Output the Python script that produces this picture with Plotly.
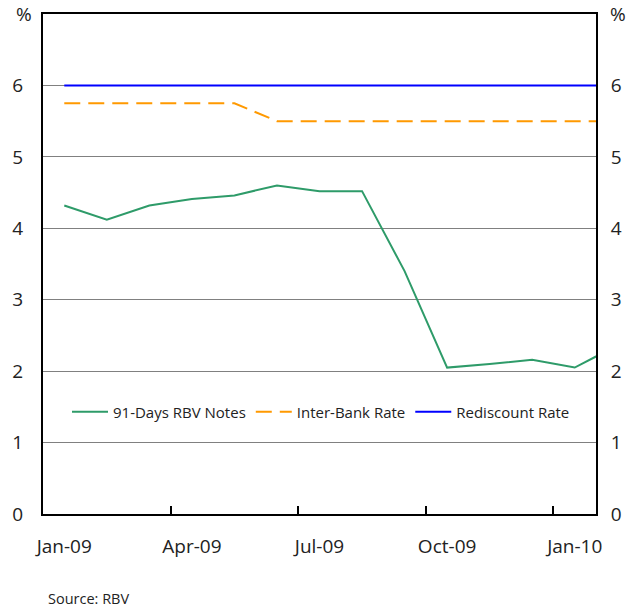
import plotly.graph_objects as go

months = ["Jan-09", "Feb-09", "Mar-09", "Apr-09", "May-09", "Jun-09", "Jul-09",
          "Aug-09", "Sep-09", "Oct-09", "Nov-09", "Dec-09", "Jan-10", "Feb-10"]
notes_91d = [4.32, 4.12, 4.32, 4.41, 4.46, 4.60, 4.52, 4.52, 3.40, 2.05, 2.10, 2.16, 2.05, 2.36]
interbank = [5.75, 5.75, 5.75, 5.75, 5.75, 5.50, 5.50, 5.50, 5.50, 5.50, 5.50, 5.50, 5.50, 5.50]
rediscount = [6.0] * 14
tick_labels = ["Jan-09", "Apr-09", "Jul-09", "Oct-09", "Jan-10"]
y_ticks = [0, 1, 2, 3, 4, 5, 6]

x = list(range(len(months)))
label_pos = [months.index(m) for m in tick_labels]
boundaries = [p - 0.5 for p in label_pos[1:]]

FONT = "Open Sans"
TXT = "#222"

fig = go.Figure()
fig.add_trace(go.Scatter(x=x, y=notes_91d, mode="lines", name="91-Days RBV Notes",
                         line=dict(color="#2E9B69", width=2)))
fig.add_trace(go.Scatter(x=x, y=interbank, mode="lines", name="Inter-Bank Rate",
                         line=dict(color="#FF9900", width=2, dash="16px,8px")))
fig.add_trace(go.Scatter(x=x, y=rediscount, mode="lines", name="Rediscount Rate",
                         line=dict(color="#0000FF", width=2)))
fig.add_trace(go.Scatter(x=x, y=rediscount, yaxis="y2", mode="lines", showlegend=False,
                         hoverinfo="skip", line=dict(color="rgba(0,0,0,0)", width=0)))

yax = dict(range=[0, 7], tickvals=y_ticks, ticktext=[str(v) for v in y_ticks],
           showgrid=True, gridcolor="#808080", gridwidth=1, zeroline=False,
           showline=True, linecolor="black", linewidth=2, ticks="",
           tickfont=dict(family=FONT, size=19, color=TXT))

fig.update_layout(
    width=636, height=609,
    margin=dict(l=43, r=40, t=14, b=95),
    paper_bgcolor="white", plot_bgcolor="white",
    font=dict(family=FONT, color=TXT),
    xaxis=dict(range=[-0.5, 12.5], tickvals=label_pos, ticktext=tick_labels,
               ticks="", showgrid=False, zeroline=False,
               showline=True, linecolor="black", linewidth=2, mirror=True,
               tickfont=dict(family=FONT, size=19, color=TXT), ticklabelstandoff=14,
               minor=dict(tickvals=boundaries, ticks="inside", ticklen=8,
                          tickwidth=2, tickcolor="black", showgrid=False)),
    yaxis=dict(**yax, side="left", ticklabelstandoff=14),
    yaxis2=dict(**yax, side="right", overlaying="y", ticklabelstandoff=9),
    legend=dict(orientation="h", x=(67 - 43) / 553, xanchor="left", y=0.204, yanchor="middle",
                bgcolor="rgba(0,0,0,0)", font=dict(family=FONT, size=15, color=TXT),
                itemwidth=36, tracegroupgap=0),
    showlegend=True,
    annotations=[
        dict(text="%", xref="paper", yref="paper", x=(14 - 43) / 553, y=1.0,
             xanchor="left", yanchor="middle", showarrow=False,
             font=dict(family=FONT, size=19, color=TXT)),
        dict(text="%", xref="paper", yref="paper", x=(608 - 43) / 553, y=1.0,
             xanchor="left", yanchor="middle", showarrow=False,
             font=dict(family=FONT, size=19, color=TXT)),
        dict(text="Source: RBV", xref="paper", yref="paper", x=(46 - 43) / 553,
             y=-(598 - 514) / 500, xanchor="left", yanchor="middle", showarrow=False,
             font=dict(family=FONT, size=14.5, color=TXT)),
    ],
)

fig.write_html("out.html")
